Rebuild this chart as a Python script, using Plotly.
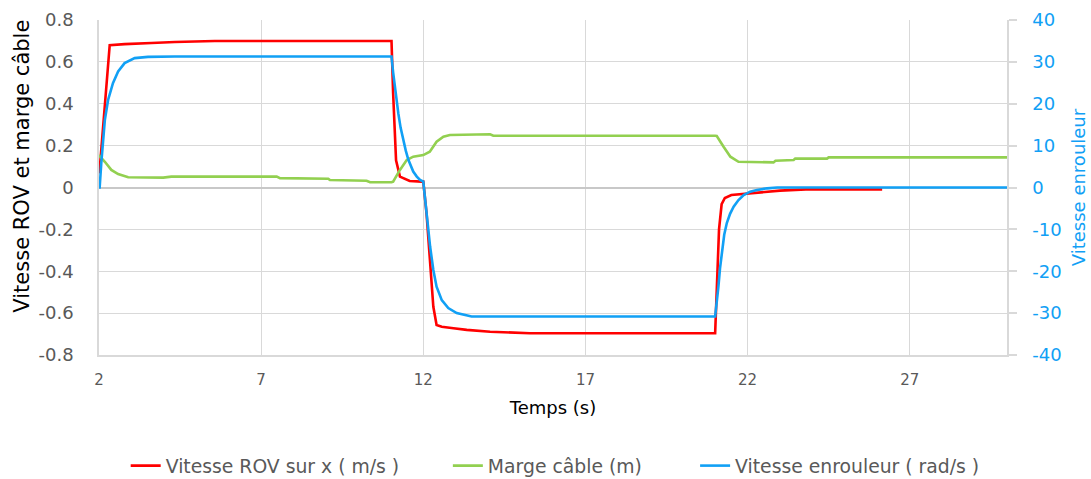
import plotly.graph_objects as go

# ---- data ----
rov_t = [2.0, 2.02, 2.33, 2.79, 3.62, 4.34, 5.57, 11.02, 11.07, 11.16, 11.28, 11.58, 11.95,
         12.0, 12.1, 12.21, 12.31, 12.41, 12.57, 12.93, 13.34, 14.06, 15.29, 21.0, 21.05,
         21.12, 21.2, 21.3, 21.5, 21.9, 22.4, 23.0, 23.8, 26.15]
rov_v = [0.068, 0.084, 0.68, 0.685, 0.69, 0.695, 0.70, 0.70, 0.45, 0.13, 0.052, 0.031, 0.028,
         0.028, -0.123, -0.362, -0.57, -0.657, -0.665, -0.672, -0.68, -0.689, -0.696, -0.696,
         -0.5, -0.2, -0.08, -0.05, -0.036, -0.031, -0.025, -0.015, -0.009, -0.009]

cable_t = [2.0, 2.02, 2.18, 2.38, 2.59, 2.9, 3.98, 4.23, 7.48, 7.58, 9.07, 9.12, 10.25, 10.36,
           11.02, 11.07, 11.28, 11.49, 11.69, 12.0, 12.2, 12.41, 12.62, 12.82, 14.06,
           14.16, 21.0, 21.05, 21.26, 21.47, 21.72, 22.8, 22.86, 23.42, 23.47, 24.45,
           24.5, 30.0]
cable_v = [0.155, 0.15, 0.123, 0.084, 0.064, 0.049, 0.047, 0.052, 0.052, 0.045, 0.042, 0.036,
           0.032, 0.025, 0.025, 0.028, 0.084, 0.131, 0.147, 0.155, 0.171, 0.219, 0.243,
           0.251, 0.254, 0.247, 0.247, 0.246, 0.195, 0.147, 0.123, 0.12, 0.128, 0.131,
           0.138, 0.138, 0.144, 0.144]

enr_t = [2.0, 2.02, 2.07, 2.12, 2.18, 2.28, 2.43, 2.59, 2.79, 3.10, 3.51, 4.34, 11.02, 11.07,
         11.12, 11.17, 11.23, 11.3, 11.38, 11.46, 11.54, 11.62, 11.69, 11.8, 11.9, 12.0,
         12.1, 12.21, 12.31, 12.41, 12.57, 12.77, 13.03, 13.49, 21.0, 21.05, 21.1, 21.15,
         21.21, 21.28, 21.36, 21.46, 21.57, 21.72, 21.88, 22.08, 22.29, 22.6, 22.91, 30.0]
enr_v = [0.0, 0.0, 5.8, 11.3, 16.1, 20.9, 24.9, 27.7, 29.7, 30.9, 31.2, 31.3, 31.3, 27.5,
         24.1, 20.8, 17.7, 14.3, 11.3, 8.8, 6.6, 5.0, 3.8, 2.6, 1.8, 1.4,
         -6.2, -14.1, -19.7, -23.7, -26.9, -28.8, -30.0, -30.8, -30.8, -27.5, -23.7, -19.3,
         -14.9, -11.3, -8.5, -6.3, -4.6, -3.0, -1.8, -1.0, -0.6, -0.2, 0.0, 0.0]

x_ticks = [2, 7, 12, 17, 22, 27]
y_ticks = [-0.8, -0.6, -0.4, -0.2, 0, 0.2, 0.4, 0.6, 0.8]
y_labels = ["-0.8", "-0.6", "-0.4", "-0.2", "0", "0.2", "0.4", "0.6", "0.8"]
y2_ticks = [-40, -30, -20, -10, 0, 10, 20, 30, 40]
y2_labels = ["-40", "-30", "-20", "-10", "0", "10", "20", "30", "40"]

RED = "#FF0000"
GREEN = "#92D050"
BLUE = "#11A0F5"
GRID = "#D9D9D9"
GRAYTXT = "#595959"
FONT = "DejaVu Sans"

fig = go.Figure()
fig.add_trace(go.Scatter(x=rov_t, y=rov_v, mode="lines", name="Vitesse ROV sur x ( m/s )",
                         line=dict(color=RED, width=2.6), legend="legend"))
fig.add_trace(go.Scatter(x=cable_t, y=cable_v, mode="lines", name="Marge câble (m)",
                         line=dict(color=GREEN, width=2.6), legend="legend2"))
fig.add_trace(go.Scatter(x=enr_t, y=enr_v, mode="lines", name="Vitesse enrouleur ( rad/s )",
                         line=dict(color=BLUE, width=2.6), yaxis="y2", legend="legend3"))

leg_common = dict(orientation="h", xanchor="left", y=-0.331, yanchor="middle",
                  font=dict(size=18.8, color=GRAYTXT, family=FONT), bgcolor="rgba(0,0,0,0)")

fig.update_layout(
    width=1091, height=479,
    margin=dict(l=99, r=84, t=20, b=124, autoexpand=False),
    paper_bgcolor="white", plot_bgcolor="white",
    font=dict(family=FONT, size=16, color=GRAYTXT),
    showlegend=True,
    legend=dict(x=0.0294, **leg_common),
    legend2=dict(x=0.3842, **leg_common),
    legend3=dict(x=0.6565, **leg_common),
    xaxis=dict(range=[2, 30], tickmode="array", tickvals=x_ticks, automargin=False,
               showgrid=True, gridcolor=GRID, gridwidth=1,
               showline=True, linecolor=GRID, linewidth=1.5, zeroline=False,
               ticks="", ticklabelstandoff=10, tickfont=dict(size=15, color=GRAYTXT),
               title=dict(text="Temps (s)", font=dict(size=18, color="#000000"), standoff=14)),
    yaxis=dict(range=[-0.8, 0.8], tickmode="array", tickvals=y_ticks, ticktext=y_labels,
               automargin=False,
               showgrid=True, gridcolor=GRID, gridwidth=1,
               showline=True, linecolor=GRID, linewidth=1.5,
               zeroline=True, zerolinecolor="#C8C8C8", zerolinewidth=1.5,
               ticks="", ticklabelstandoff=20, tickfont=dict(size=18, color=GRAYTXT)),
    yaxis2=dict(range=[-40, 40], tickmode="array", tickvals=y2_ticks, ticktext=y2_labels,
                automargin=False,
                overlaying="y", side="right", showgrid=False, zeroline=False,
                showline=True, linecolor=GRID, linewidth=1.5,
                ticks="outside", ticklen=8, tickcolor=GRID, tickwidth=1.5,
                ticklabelstandoff=12,
                tickfont=dict(size=18, color=BLUE),
                title=dict(text="Vitesse enrouleur", font=dict(size=18, color=BLUE), standoff=12)),
    annotations=[dict(text="Vitesse ROV et marge câble", textangle=-90,
                      xref="paper", yref="paper", x=(22 - 99.3) / 907.4, y=(355 - 166) / 335,
                      xanchor="center", yanchor="middle", showarrow=False,
                      font=dict(size=21, color="#000000", family=FONT))],
)

fig.write_html("out.html", post_script="document.body.style.margin='0';",
               config={"displayModeBar": False})
